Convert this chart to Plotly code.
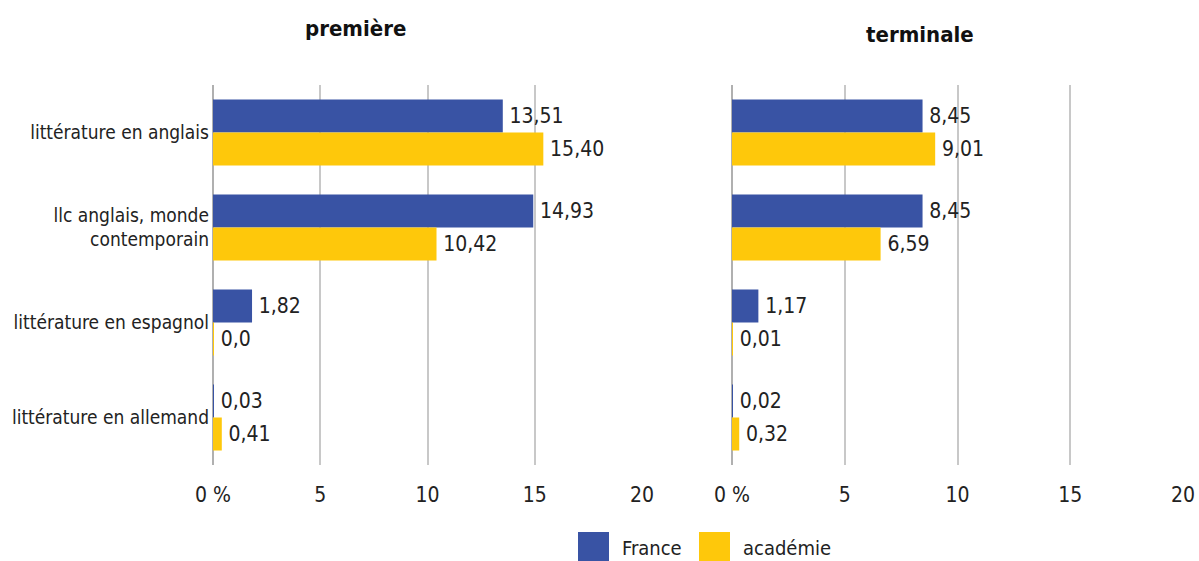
import plotly.graph_objects as go
from plotly.subplots import make_subplots

categories = ['littérature en anglais', 'llc anglais, monde<br>contemporain',
              'littérature en espagnol', 'littérature en allemand']
premiere_france = [13.51, 14.93, 1.82, 0.03]
premiere_academie = [15.40, 10.42, 0.004, 0.41]
terminale_france = [8.45, 8.45, 1.17, 0.02]
terminale_academie = [9.01, 6.59, 0.01, 0.32]
premiere_france_lbl = ['13,51', '14,93', '1,82', '0,03']
premiere_academie_lbl = ['15,40', '10,42', '0,0', '0,41']
terminale_france_lbl = ['8,45', '8,45', '1,17', '0,02']
terminale_academie_lbl = ['9,01', '6,59', '0,01', '0,32']
tick_vals = [0, 5, 10, 15, 20]
tick_text = ['0 %', '5', '10', '15', '20']

BLUE = '#3953a4'
YELLOW = '#fec80b'
FONT = 'DejaVu Sans Condensed, Liberation Sans Narrow, sans-serif'
W, H = 1199, 561


def px_x(x):
    return x / W


def px_y(y):
    return 1 - y / H


fig = make_subplots(rows=1, cols=2, shared_yaxes=False)


def add_pair(col, fr, ac, fr_lbl, ac_lbl):
    for vals, lbls, color, name in [(fr, fr_lbl, BLUE, 'France'),
                                    (ac, ac_lbl, YELLOW, 'académie')]:
        fig.add_trace(go.Bar(
            y=categories, x=vals, orientation='h', name=name,
            marker=dict(color=color, line=dict(width=0)),
            text=lbls, texttemplate='\u2009%{text}',
            textposition='outside', cliponaxis=False,
            textfont=dict(size=21, color='#222222', family=FONT),
            showlegend=False,
        ), row=1, col=col)


add_pair(1, premiere_france, premiere_academie, premiere_france_lbl, premiere_academie_lbl)
add_pair(2, terminale_france, terminale_academie, terminale_france_lbl, terminale_academie_lbl)

xcommon = dict(range=[0, 20], tickvals=tick_vals, ticktext=tick_text,
               showgrid=True, gridcolor='#c8c8c8', gridwidth=1.5,
               zeroline=True, zerolinecolor='#b0b0b0', zerolinewidth=1.5,
               showline=False, ticks='', ticklabelstandoff=15,
               tickfont=dict(size=21, color='#222222', family=FONT),
               automargin=False, fixedrange=True)
fig.update_xaxes(domain=[px_x(213), px_x(642)], **xcommon, row=1, col=1)
fig.update_xaxes(domain=[px_x(732), px_x(1183)], **xcommon, row=1, col=2)

fig.update_yaxes(domain=[px_y(465), px_y(85)], autorange='reversed',
                 showgrid=False, showline=False, ticks='', automargin=False,
                 ticklabelstandoff=3, fixedrange=True,
                 tickfont=dict(size=19, color='#222222', family=FONT))
fig.update_yaxes(showticklabels=False, row=1, col=2)

for text, x, y in [('<b>première</b>', 355, 28), ('<b>terminale</b>', 920, 35)]:
    fig.add_annotation(xref='paper', yref='paper', x=px_x(x), y=px_y(y),
                       xanchor='center', yanchor='middle', text=text,
                       showarrow=False,
                       font=dict(size=22, color='#111111', family=FONT))

# legend drawn as large squares like the original
for x0, color, label in [(578, BLUE, 'France'), (699, YELLOW, 'académie')]:
    fig.add_shape(type='rect', xref='paper', yref='paper',
                  x0=px_x(x0), x1=px_x(x0 + 31), y0=px_y(561), y1=px_y(532),
                  fillcolor=color, line=dict(width=0))
    fig.add_annotation(xref='paper', yref='paper', x=px_x(x0 + 42),
                       y=px_y(548), xanchor='left', yanchor='middle',
                       text=label, showarrow=False,
                       font=dict(size=20, color='#222222', family=FONT))

fig.update_layout(
    width=W, height=H, barmode='group', bargap=0.305, bargroupgap=0,
    margin=dict(l=0, r=0, t=0, b=0),
    plot_bgcolor='white', paper_bgcolor='white',
    font=dict(family=FONT, color='#222222'),
)

# drop the default body margin so the figure fills the window exactly
fig.write_html('out.html', config={'displayModeBar': False}, post_script=(
    "document.body.style.margin='0';"
    "document.body.style.overflow='hidden';"))
